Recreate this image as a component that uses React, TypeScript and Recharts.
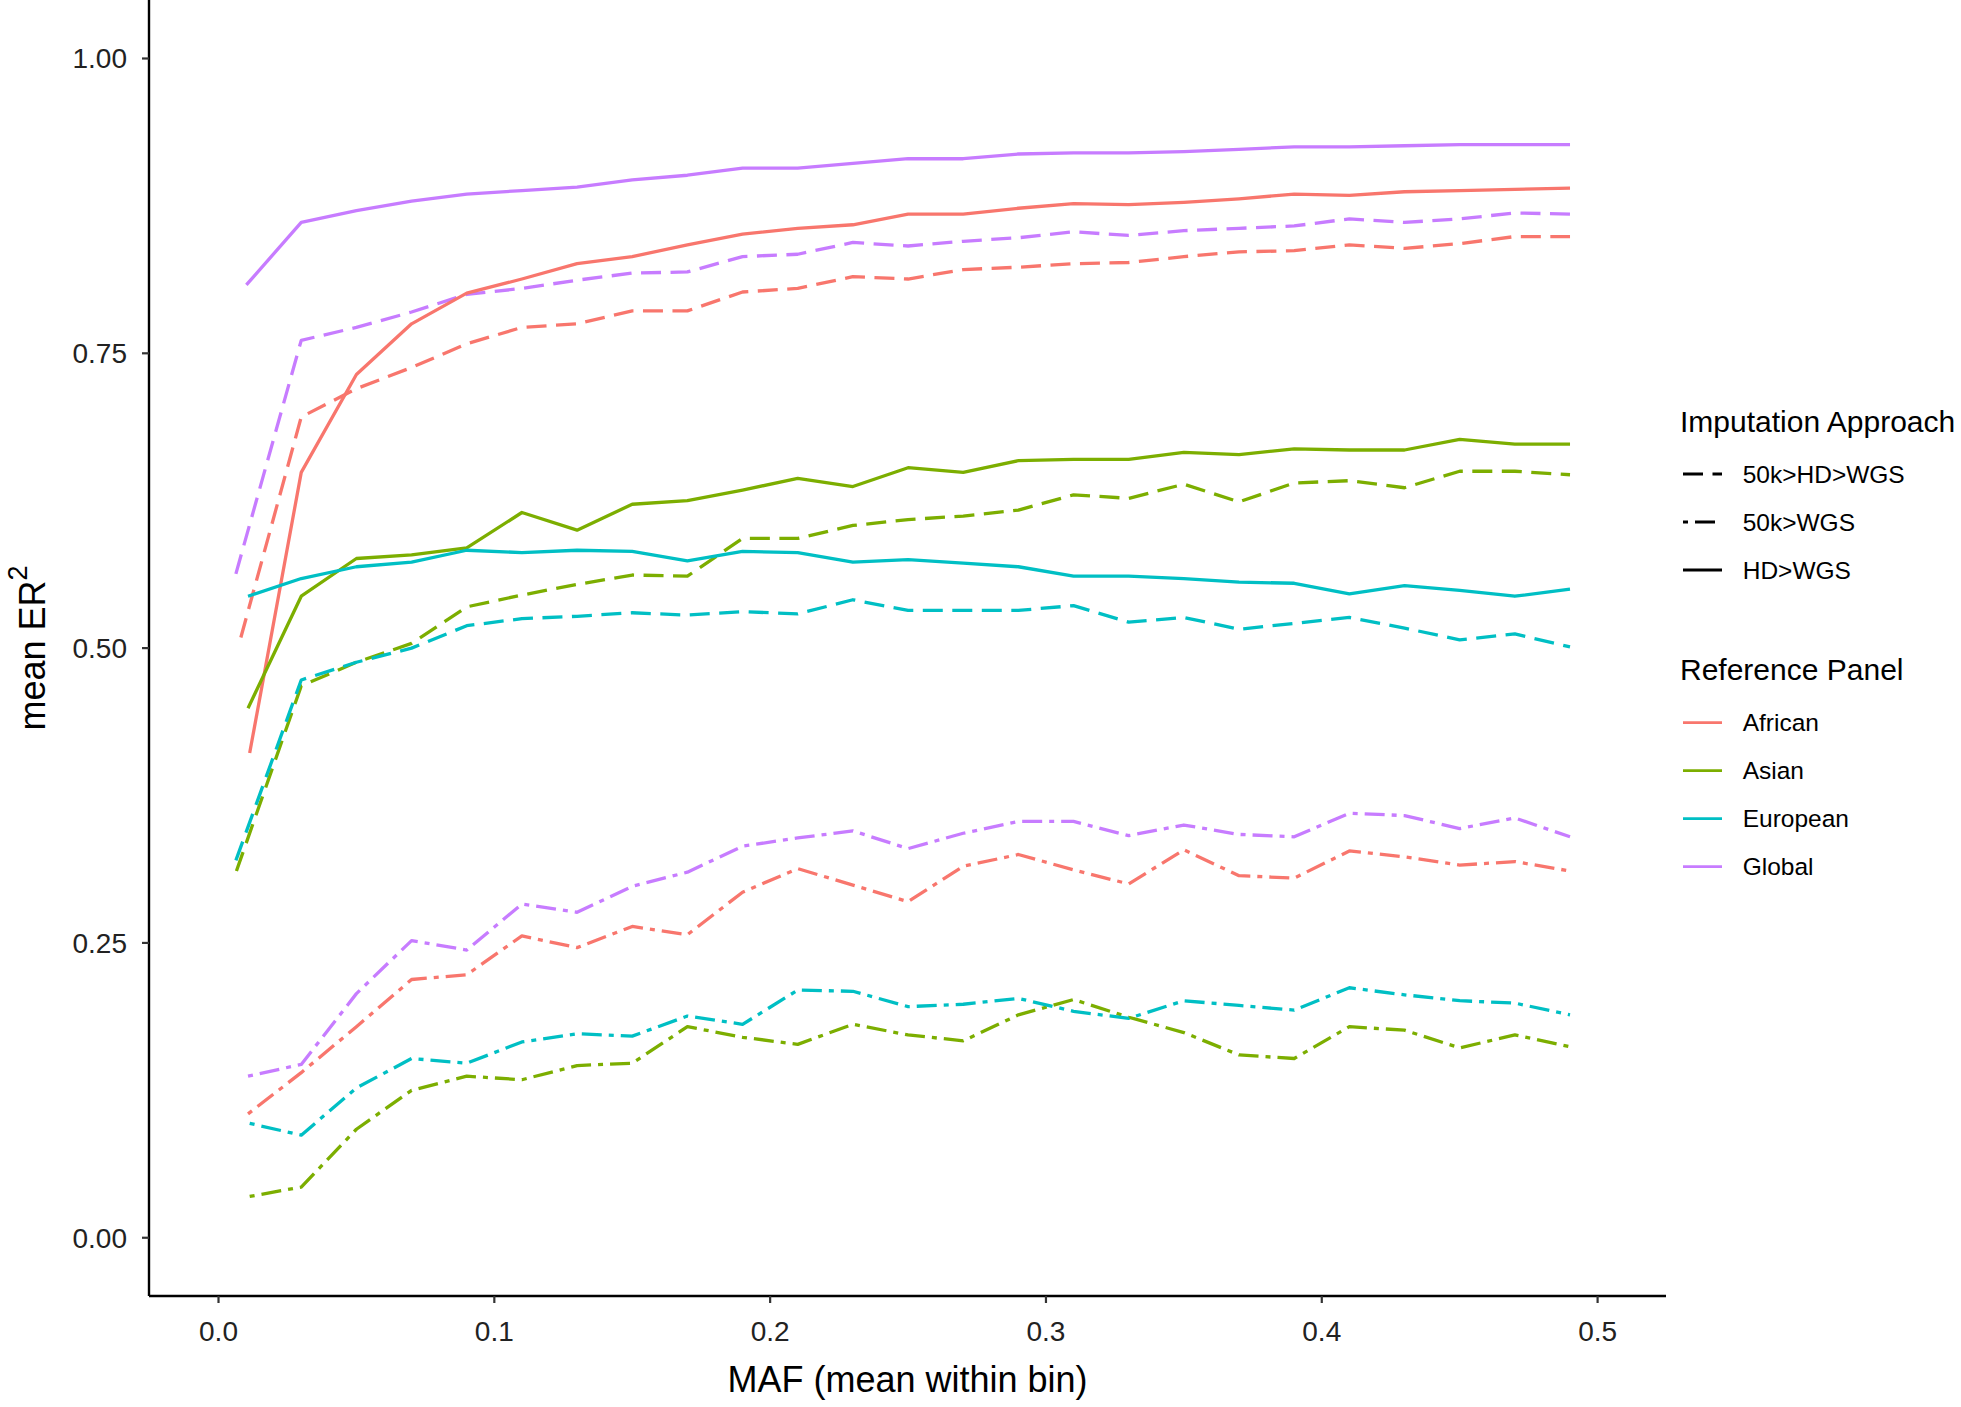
import React from 'react'
import { LineChart, Line, XAxis, YAxis } from 'recharts'

const FONT = '"Liberation Sans", Arial, Helvetica, sans-serif'

// MAF bin means; the first bin's mean differs a little per series (firstBinMaf)
const maf = [
  0.01, 0.03, 0.05, 0.07, 0.09, 0.11, 0.13, 0.15, 0.17, 0.19, 0.21, 0.23, 0.25,
  0.27, 0.29, 0.31, 0.33, 0.35, 0.37, 0.39, 0.41, 0.43, 0.45, 0.47, 0.49,
]

const panels = ['African', 'Asian', 'European', 'Global']
const approaches = ['50k>HD>WGS', '50k>WGS', 'HD>WGS']

// rows: approach, cols: panel
const firstBinMaf = [
  [0.0081, 0.0065, 0.0063, 0.0063],
  [0.0107, 0.0113, 0.0113, 0.0107],
  [0.0113, 0.0107, 0.0107, 0.0101],
]

// 50k>HD>WGS
const stepAfrican = [0.509, 0.696, 0.720, 0.738, 0.758, 0.772, 0.775, 0.786, 0.786, 0.802, 0.805, 0.815, 0.813, 0.821, 0.823, 0.826, 0.827, 0.832, 0.836, 0.837, 0.842, 0.839, 0.843, 0.849, 0.849]
const stepAsian = [0.311, 0.468, 0.488, 0.504, 0.535, 0.545, 0.554, 0.562, 0.561, 0.593, 0.593, 0.604, 0.609, 0.612, 0.617, 0.630, 0.627, 0.639, 0.624, 0.640, 0.642, 0.636, 0.650, 0.650, 0.647]
const stepEuropean = [0.320, 0.473, 0.488, 0.500, 0.519, 0.525, 0.527, 0.530, 0.528, 0.531, 0.529, 0.541, 0.532, 0.532, 0.532, 0.536, 0.522, 0.526, 0.516, 0.521, 0.526, 0.517, 0.507, 0.512, 0.501]
const stepGlobal = [0.563, 0.761, 0.772, 0.785, 0.800, 0.805, 0.812, 0.818, 0.819, 0.832, 0.834, 0.844, 0.841, 0.845, 0.848, 0.853, 0.850, 0.854, 0.856, 0.858, 0.864, 0.861, 0.864, 0.869, 0.868]

// 50k>WGS
const directAfrican = [0.105, 0.140, 0.179, 0.219, 0.223, 0.256, 0.246, 0.264, 0.257, 0.293, 0.313, 0.299, 0.285, 0.315, 0.325, 0.312, 0.300, 0.329, 0.307, 0.305, 0.328, 0.323, 0.316, 0.319, 0.311]
const directAsian = [0.035, 0.043, 0.092, 0.125, 0.137, 0.134, 0.146, 0.148, 0.179, 0.170, 0.164, 0.181, 0.172, 0.167, 0.189, 0.202, 0.187, 0.174, 0.155, 0.152, 0.179, 0.176, 0.161, 0.172, 0.162]
const directEuropean = [0.097, 0.087, 0.127, 0.152, 0.148, 0.166, 0.173, 0.171, 0.188, 0.181, 0.210, 0.209, 0.196, 0.198, 0.203, 0.192, 0.186, 0.201, 0.197, 0.193, 0.212, 0.206, 0.201, 0.199, 0.189]
const directGlobal = [0.137, 0.147, 0.207, 0.252, 0.244, 0.283, 0.276, 0.298, 0.310, 0.332, 0.339, 0.345, 0.330, 0.343, 0.353, 0.353, 0.341, 0.350, 0.342, 0.340, 0.360, 0.358, 0.347, 0.356, 0.340]

// HD>WGS
const hdAfrican = [0.411, 0.649, 0.732, 0.775, 0.801, 0.813, 0.826, 0.832, 0.842, 0.851, 0.856, 0.859, 0.868, 0.868, 0.873, 0.877, 0.876, 0.878, 0.881, 0.885, 0.884, 0.887, 0.888, 0.889, 0.890]
const hdAsian = [0.449, 0.544, 0.576, 0.579, 0.585, 0.615, 0.600, 0.622, 0.625, 0.634, 0.644, 0.637, 0.653, 0.649, 0.659, 0.660, 0.660, 0.666, 0.664, 0.669, 0.668, 0.668, 0.677, 0.673, 0.673]
const hdEuropean = [0.544, 0.559, 0.569, 0.573, 0.583, 0.581, 0.583, 0.582, 0.574, 0.582, 0.581, 0.573, 0.575, 0.572, 0.569, 0.561, 0.561, 0.559, 0.556, 0.555, 0.546, 0.553, 0.549, 0.544, 0.550]
const hdGlobal = [0.808, 0.861, 0.871, 0.879, 0.885, 0.888, 0.891, 0.897, 0.901, 0.907, 0.907, 0.911, 0.915, 0.915, 0.919, 0.920, 0.920, 0.921, 0.923, 0.925, 0.925, 0.926, 0.927, 0.927, 0.927]

const xTicks = [0, 0.1, 0.2, 0.3, 0.4, 0.5]
const yTicks = [0, 0.25, 0.5, 0.75, 1]

const values = [
  [stepAfrican, stepAsian, stepEuropean, stepGlobal],
  [directAfrican, directAsian, directEuropean, directGlobal],
  [hdAfrican, hdAsian, hdEuropean, hdGlobal],
]

// ggplot default hue palette
const colors = ['#F8766D', '#7CAE00', '#00BFC4', '#C77CFF']
const dashes = ['20 9.5', '5 7 20 7', undefined]

const series = approaches.flatMap((a, ai) =>
  panels.map((p, pi) => ({
    key: `${a} ${p}`,
    color: colors[pi],
    dash: dashes[ai],
    data: values[ai][pi].map((v, i) => ({
      maf: i === 0 ? firstBinMaf[ai][pi] : maf[i],
      er2: v,
    })),
  }))
)

function XTitle({ viewBox }: any) {
  const { x, y, width } = viewBox
  return (
    <text x={x + width / 2} y={y + 96} textAnchor="middle" fontSize={36} fontFamily={FONT} fill="#000">
      MAF (mean within bin)
    </text>
  )
}

function YTitle({ viewBox }: any) {
  const { y, height } = viewBox
  const cx = 45
  const cy = y + height / 2
  return (
    <text x={cx} y={cy} transform={`rotate(-90, ${cx}, ${cy})`} textAnchor="middle" fontSize={36} fontFamily={FONT} fill="#000">
      mean ER<tspan dy={-18} fontSize={27}>2</tspan>
    </text>
  )
}

function ChartLegend() {
  return (
    <svg width={290} height={520} style={{ position: 'absolute', left: 1671, top: 380, overflow: 'visible' }} fontFamily={FONT}>
      <text x={9} y={51.7} fontSize={30} fill="#000">Imputation Approach</text>
      {approaches.map((a, i) => {
        const cy = 94 + i * 48
        return (
          <g key={a}>
            <line x1={12} x2={51} y1={cy} y2={cy} stroke="#000" strokeWidth={2.8} strokeDasharray={dashes[i]} />
            <text x={71.7} y={cy + 8.7} fontSize={24.5} fill="#000">{a}</text>
          </g>
        )
      })}
      <text x={9} y={300} fontSize={30} fill="#000">Reference Panel</text>
      {panels.map((p, i) => {
        const cy = 342.7 + i * 48
        return (
          <g key={p}>
            <line x1={12} x2={51} y1={cy} y2={cy} stroke={colors[i]} strokeWidth={2.8} />
            <text x={71.7} y={cy + 8.7} fontSize={24.5} fill="#000">{p}</text>
          </g>
        )
      })}
    </svg>
  )
}

export default function App() {
  return (
    <div style={{ position: 'absolute', left: 0, top: 0, width: 1961, height: 1407, background: '#fff', fontFamily: FONT }}>
      <LineChart width={1961} height={1407} margin={{ top: 0, right: 295, bottom: 0, left: 0 }}>
        <XAxis
          type="number"
          dataKey="maf"
          domain={[-0.0252, 0.5248]}
          allowDataOverflow
          ticks={xTicks}
          tickFormatter={(v: number) => v.toFixed(1)}
          height={111}
          tickSize={7}
          tickMargin={18}
          axisLine={{ stroke: '#000', strokeWidth: 2.4 }}
          tickLine={{ stroke: '#333', strokeWidth: 2.2 }}
          tick={{ fontSize: 28, fill: '#222', fontFamily: FONT }}
          label={<XTitle />}
        />
        <YAxis
          type="number"
          domain={[-0.0494, 1.0496]}
          allowDataOverflow
          ticks={yTicks}
          tickFormatter={(v: number) => v.toFixed(2)}
          width={149}
          tickSize={7}
          tickMargin={15}
          axisLine={{ stroke: '#000', strokeWidth: 2.4 }}
          tickLine={{ stroke: '#333', strokeWidth: 2.2 }}
          tick={{ fontSize: 28, fill: '#222', fontFamily: FONT }}
          label={<YTitle />}
        />
        {series.map((s) => (
          <Line
            key={s.key}
            name={s.key}
            data={s.data}
            dataKey="er2"
            type="linear"
            stroke={s.color}
            strokeWidth={3.3}
            strokeDasharray={s.dash}
            strokeLinejoin="round"
            dot={false}
            activeDot={false}
            isAnimationActive={false}
          />
        ))}
      </LineChart>
      <ChartLegend />
    </div>
  )
}
